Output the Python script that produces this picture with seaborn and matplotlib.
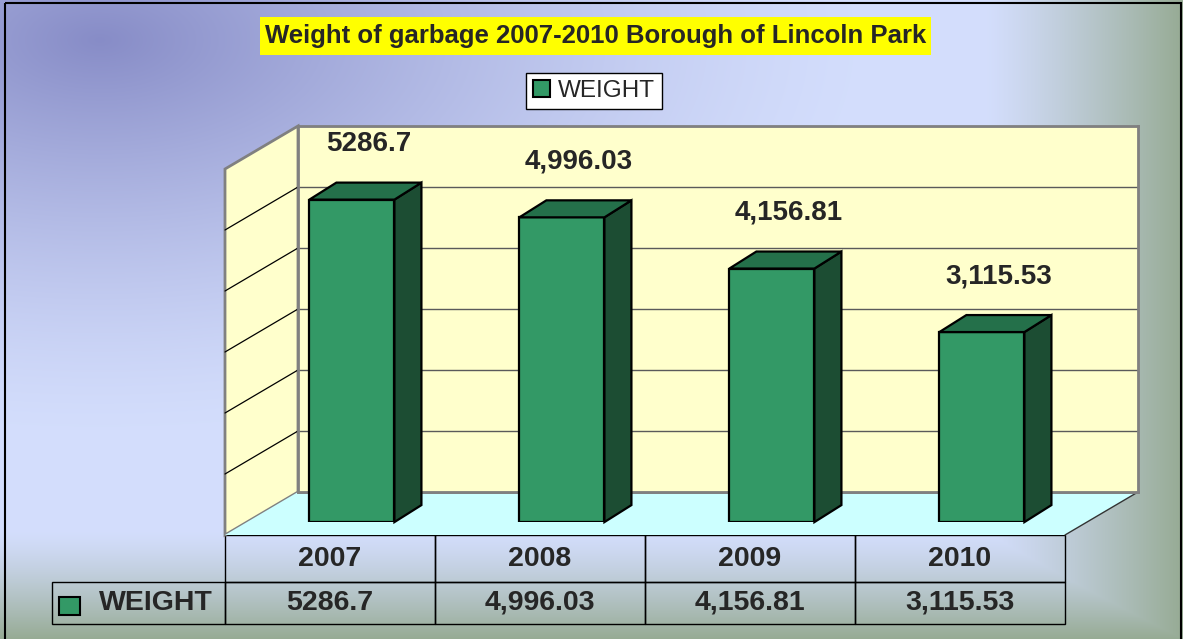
import numpy as np
import pandas as pd
import seaborn as sns
import matplotlib.pyplot as plt
from matplotlib.patches import Polygon, Rectangle, Patch

# chart data
years = ["2007", "2008", "2009", "2010"]
weights = [5286.7, 4996.03, 4156.81, 3115.53]
weight_labels = ["5286.7", "4,996.03", "4,156.81", "3,115.53"]
series_name = "WEIGHT"
title = "Weight of garbage 2007-2010 Borough of Lincoln Park"
y_ticks = [0, 1000, 2000, 3000, 4000, 5000, 6000]

df = pd.DataFrame({"Year": years, "Weight": weights})

W, H = 1183, 639
FRONT = "#339966"
SIDE = "#1c4d33"
TOP = "#24704a"
WALL = "#ffffcc"
FLOOR = "#ccffff"
EDGE = "#808080"

sns.set_theme(style="white")
plt.rcParams["font.family"] = ["Liberation Sans", "DejaVu Sans"]

fig = plt.figure(figsize=(W / 100, H / 100), dpi=100)


def px_axes(x0, y0, x1, y1, **kw):
    return fig.add_axes([x0 / W, 1 - y1 / H, (x1 - x0) / W, (y1 - y0) / H], **kw)


# === background gradient ===
bg = px_axes(0, 0, W, H, zorder=0)
bg.set_xlim(0, W)
bg.set_ylim(H, 0)
bg.axis("off")
xx, yy = np.meshgrid(np.arange(W) + 0.5, np.arange(H) + 0.5)
light = np.array([0.83, 0.87, 0.99])
purple = np.array([0.53, 0.55, 0.78])
green = np.array([0.59, 0.67, 0.58])
d = np.sqrt(((xx - 100) / 780) ** 2 + ((yy - 40) / 400) ** 2)
wp = np.clip(1 - d, 0, 1) ** 1.4
wg = np.maximum(np.clip((xx - 985) / 198, 0, 1) ** 1.2,
                np.clip((yy - 530) / 109, 0, 1) ** 1.3)
img = light[None, None, :] * (1 - wp[..., None]) + purple * wp[..., None]
img = img * (1 - wg[..., None]) + green * wg[..., None]
bg.imshow(img, extent=(0, W, H, 0), aspect="auto", zorder=0)

# outer border
bg.add_patch(Rectangle((5, 3), W - 6.5, H, fill=False, edgecolor="black", lw=1.5, zorder=9))

# title with yellow box
bg.add_patch(Rectangle((260, 17), 671, 38, facecolor="#ffff00", edgecolor="none", zorder=3))
bg.text(595.5, 36.5, title, ha="center", va="center", fontsize=18.5, fontweight="bold", zorder=4)

# === back wall ===
back = px_axes(298, 126, 1138, 492, zorder=1)
back.set_facecolor(WALL)
back.set_xlim(-0.5, 3.5)
back.set_ylim(y_ticks[0], y_ticks[-1])
back.set_yticks(y_ticks)
back.set_yticklabels([])
back.set_xticks([])
back.tick_params(length=0)
back.grid(axis="y", color="#5a5a5a", lw=1)
for s in back.spines.values():
    s.set_color(EDGE)
    s.set_linewidth(2)


def to_px(a, x, y):
    dx, dy = a.transData.transform((x, y))
    return np.array([dx, H - dy])


depth = np.array([-73.0, 43.0])  # back -> front, image pixels

# left wall
b0 = to_px(back, -0.5, y_ticks[0])
b1 = to_px(back, -0.5, y_ticks[-1])
bg.add_patch(Polygon([b1, b0, b0 + depth, b1 + depth], closed=True,
                     facecolor=WALL, edgecolor=EDGE, lw=2, zorder=2))
for v in y_ticks[1:-1]:
    p = to_px(back, -0.5, v)
    bg.plot([p[0], p[0] + depth[0]], [p[1], p[1] + depth[1]], color="black", lw=0.9, zorder=2.5)

# floor
f0 = to_px(back, -0.5, 0)
f1 = to_px(back, 3.5, 0)
bg.add_patch(Polygon([f0, f1, f1 + depth, f0 + depth], closed=True,
                     facecolor=FLOOR, edgecolor="none", zorder=2))
bg.plot([f1[0], f1[0] + depth[0]], [f1[1], f1[1] + depth[1]], color="#333333", lw=1, zorder=2.5)
bg.plot([f0[0], f1[0]], [f0[1], f1[1]], color=EDGE, lw=2, zorder=2.5)

# === bars (front plane) ===
shift = 0.7 * depth
ax = px_axes(298 + shift[0], 126 + shift[1], 1138 + shift[0], 492 + shift[1], zorder=2)
ax.patch.set_alpha(0)
sns.barplot(data=df, x="Year", y="Weight", ax=ax, color=FRONT, saturation=1,
            width=0.405, edgecolor="black", linewidth=1.6, errorbar=None)
ax.set_xlim(-0.5, 3.5)
ax.set_ylim(y_ticks[0], y_ticks[-1])
ax.axis("off")

off = np.array([27.0, 17.0])  # bar depth in display coords
inv = ax.transData.inverted()
for patch, lbl in zip(ax.patches, weight_labels):
    x0 = patch.get_x()
    x1 = x0 + patch.get_width()
    h = patch.get_height()
    pts = ax.transData.transform([(x0, 0), (x1, 0), (x1, h), (x0, h)])
    side = inv.transform([pts[1], pts[2], pts[2] + off, pts[1] + off])
    top = inv.transform([pts[3], pts[2], pts[2] + off, pts[3] + off])
    ax.add_patch(Polygon(side, closed=True, facecolor=SIDE, edgecolor="black", lw=1.6, clip_on=False))
    ax.add_patch(Polygon(top, closed=True, facecolor=TOP, edgecolor="black", lw=1.6, clip_on=False))
    ax.annotate(lbl, xy=((x0 + x1) / 2, h), xytext=(17, 56), textcoords="offset pixels",
                ha="center", va="center", fontsize=20, fontweight="bold", annotation_clip=False)

# === legend ===
leg = fig.legend(handles=[Patch(facecolor=FRONT, edgecolor="black", lw=1.5, label=series_name)],
                 loc="center", bbox_to_anchor=(594 / W, 1 - 91 / H), fontsize=17.5,
                 frameon=True, fancybox=False, framealpha=1, edgecolor="black",
                 handlelength=0.7, handleheight=0.7, handletextpad=0.3, borderpad=0.3)
leg.get_frame().set_linewidth(1)

# === data table ===
label_w = 173
tbl_left, tbl_right = f0[0] + depth[0] - label_w, f1[0] + depth[0]
tbl_top, tbl_bot = f0[1] + depth[1], 624
col_w = (tbl_right - tbl_left - label_w) / len(years)
tbl = bg.table(cellText=[[""] + years, [series_name] + weight_labels], cellLoc="center",
               bbox=[tbl_left / W, 1 - tbl_bot / H, (tbl_right - tbl_left) / W, (tbl_bot - tbl_top) / H])
tbl.auto_set_font_size(False)
for (r, c), cell in tbl.get_celld().items():
    cell.set_width((label_w if c == 0 else col_w) / W)
    cell.set_height((47 if r == 0 else 42) / H)
    cell.set_facecolor("none")
    cell.set_edgecolor("black")
    cell.set_linewidth(1)
    cell.get_text().set_fontsize(20.5)
    cell.get_text().set_fontweight("bold")
tbl[0, 0].set_edgecolor("none")
tbl[1, 0].get_text().set_horizontalalignment("right")
tbl[1, 0].PAD = 0.07

# small legend key inside the table row label
bg.add_patch(Rectangle((59, 597), 21, 18, facecolor=FRONT, edgecolor="black", lw=1.5, zorder=12))

plt.savefig("out.png", dpi=100)
